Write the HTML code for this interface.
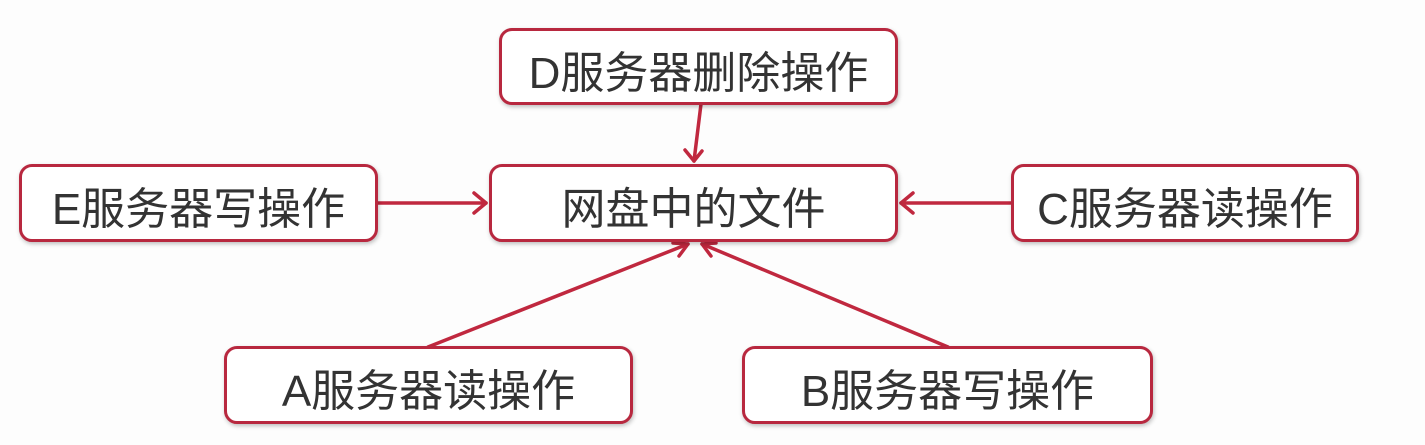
<!DOCTYPE html>
<html><head><meta charset="utf-8"><style>
html,body{margin:0;padding:0;background:#fdfdfd;}
body{width:1425px;height:445px;position:relative;overflow:hidden;font-family:"Liberation Sans","Noto Sans CJK SC",sans-serif;}
.b{position:absolute;box-sizing:border-box;border:3px solid #b8283f;border-radius:13px;background:#fff;display:flex;align-items:center;justify-content:center;font-size:44px;color:#333;box-shadow:1px 2px 4px rgba(0,0,0,.25);padding-top:4px;}
svg{position:absolute;left:0;top:0;}
</style></head><body>
<svg width="1425" height="445">
<g stroke="#c0283f" stroke-width="3.5" fill="none" stroke-linecap="round" stroke-linejoin="round">
<line x1="377" y1="203" x2="486" y2="203"/><polyline points="474,193 486,203 474,213"/>
<line x1="1011" y1="203" x2="901" y2="203"/><polyline points="913,193 901,203 913,213"/>
<line x1="701" y1="104" x2="694" y2="161"/><polyline points="685,150 694,161 702,151"/>
<line x1="428" y1="347" x2="688" y2="244"/><polyline points="673,243 688,244 679,256"/>
<line x1="948" y1="347" x2="702" y2="244"/><polyline points="716,243 702,244 711,256"/>
</g></svg>
<div class="b" style="left:499px;top:28px;width:399px;height:77px;">D服务器删除操作</div>
<div class="b" style="left:19px;top:164px;width:359px;height:78px;">E服务器写操作</div>
<div class="b" style="left:489px;top:164px;width:409px;height:78px;">网盘中的文件</div>
<div class="b" style="left:1011px;top:164px;width:348px;height:78px;">C服务器读操作</div>
<div class="b" style="left:224px;top:346px;width:409px;height:78px;">A服务器读操作</div>
<div class="b" style="left:742px;top:346px;width:411px;height:78px;">B服务器写操作</div>
</body></html>
